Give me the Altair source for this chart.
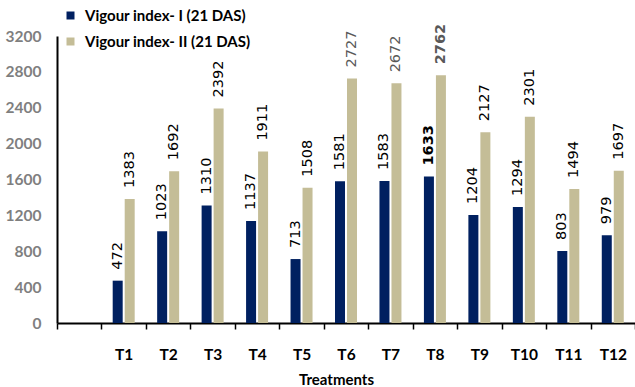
import altair as alt
import pandas as pd

treatments = ["T1", "T2", "T3", "T4", "T5", "T6", "T7", "T8", "T9", "T10", "T11", "T12"]
vi1 = [472, 1023, 1310, 1137, 713, 1581, 1583, 1633, 1204, 1294, 803, 979]
vi2 = [1383, 1692, 2392, 1911, 1508, 2727, 2672, 2762, 2127, 2301, 1494, 1697]
series_names = ["Vigour index- I (21 DAS)", "Vigour index- II (21 DAS)"]
y_ticks = [0, 400, 800, 1200, 1600, 2000, 2400, 2800, 3200]

rows = []
for t, a, b in zip(treatments, vi1, vi2):
    rows.append({"Treatment": t, "Series": series_names[0], "Value": a})
    rows.append({"Treatment": t, "Series": series_names[1], "Value": b})
df = pd.DataFrame(rows)

x_domain = [" "] + treatments
W, H = 578, 287

x_enc = alt.X(
    "Treatment:N",
    scale=alt.Scale(domain=x_domain, paddingInner=0, paddingOuter=0),
    axis=alt.Axis(
        title="Treatments",
        titleFont="Lato", titleFontSize=15, titleFontWeight="bold", titleColor="black",
        titleX=279, titleY=56, titleBaseline="middle", titleAnchor="start", titleAlign="center",
        labelFont="Lato", labelFontSize=15.5, labelFontWeight="bold", labelColor="black",
        labelAngle=0, labelPadding=18, labelBaseline="top",
        tickBand="extent", tickSize=6, tickColor="black", tickWidth=1.5,
        domainColor="black", domainWidth=2, grid=False,
    ),
)
xo_enc = alt.XOffset(
    "Series:N",
    scale=alt.Scale(domain=series_names, paddingInner=0.1667, paddingOuter=0.936),
)
y_enc = alt.Y(
    "Value:Q",
    scale=alt.Scale(domain=[0, 3200], nice=False),
    axis=alt.Axis(
        title=None, values=y_ticks, ticks=False, grid=False, format="d",
        labelFont="Lato", labelFontSize=15.5, labelFontWeight="bold", labelColor="#7f7f7f",
        labelPadding=16, domainColor="black", domainWidth=2,
    ),
)

bars = alt.Chart(df).mark_bar().encode(
    x=x_enc,
    xOffset=xo_enc,
    y=y_enc,
    color=alt.Color(
        "Series:N",
        scale=alt.Scale(domain=series_names, range=["#002060", "#C4BD97"]),
        legend=alt.Legend(
            title=None, orient="none", legendX=6, legendY=-28,
            symbolType="square", symbolSize=64, symbolStrokeWidth=0,
            labelFont="Lato", labelFontSize=15, labelFontWeight="bold", labelColor="black",
            labelOffset=7, rowPadding=10, labelLimit=0,
        ),
    ),
)

label_color = alt.condition(
    "datum.Series == 'Vigour index- II (21 DAS)' && indexof(['T6','T7','T8'], datum.Treatment) >= 0",
    alt.value("#595959"),
    alt.value("black"),
)

labels_normal = alt.Chart(df).transform_filter("datum.Treatment != 'T8'").mark_text(
    angle=270, align="left", baseline="middle", dx=11, font="DejaVu Sans", fontSize=14.5
).encode(x=x_enc, xOffset=xo_enc, y=y_enc, text="Value:Q", color=label_color)

labels_bold = alt.Chart(df).transform_filter("datum.Treatment == 'T8'").mark_text(
    angle=270, align="left", baseline="middle", dx=11, font="DejaVu Sans", fontSize=14.5,
    fontWeight="bold"
).encode(x=x_enc, xOffset=xo_enc, y=y_enc, text="Value:Q", color=label_color)

chart = alt.layer(bars, labels_normal, labels_bold).properties(
    width=W, height=H,
    autosize=alt.AutoSizeParams(type="none"),
    padding={"left": 57, "top": 36, "right": 0, "bottom": 64},
).configure_view(stroke=None)

chart.save("out.html", embed_options={"renderer": "svg", "actions": False})
